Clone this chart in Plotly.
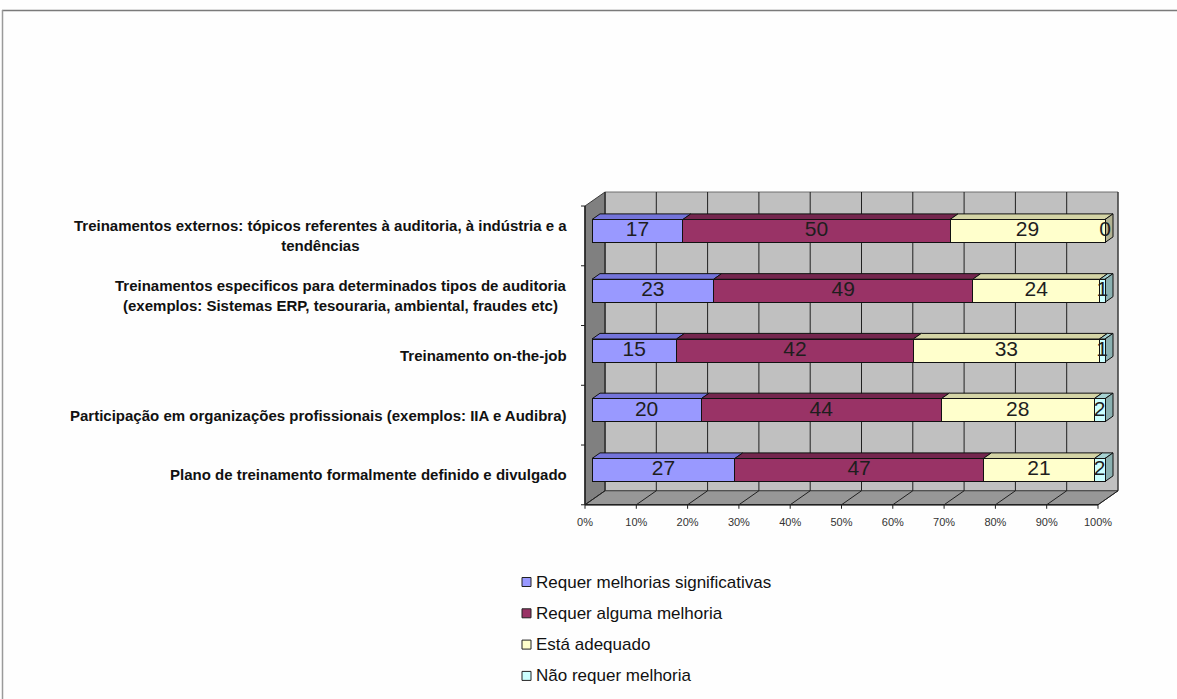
import plotly.graph_objects as go

# ---- data -------------------------------------------------------------
categories = [
    "Plano de treinamento formalmente definido e divulgado",
    "Participação em organizações profissionais (exemplos: IIA e Audibra)",
    "Treinamento on-the-job",
    "Treinamentos especificos para determinados tipos de auditoria<br>(exemplos: Sistemas ERP, tesouraria, ambiental, fraudes etc)",
    "Treinamentos externos: tópicos referentes à auditoria, à indústria e a<br>tendências",
]
series_names = [
    "Requer melhorias significativas",
    "Requer alguma melhoria",
    "Está adequado",
    "Não requer melhoria",
]
requer_melhorias_significativas = [27, 20, 15, 23, 17]
requer_alguma_melhoria = [47, 44, 42, 49, 50]
esta_adequado = [21, 28, 33, 24, 29]
nao_requer_melhoria = [2, 2, 1, 1, 0]
x_tick_values = [0, 10, 20, 30, 40, 50, 60, 70, 80, 90, 100]
x_tick_labels = ["0%", "10%", "20%", "30%", "40%", "50%", "60%", "70%", "80%", "90%", "100%"]

series_values = [requer_melhorias_significativas, requer_alguma_melhoria,
                 esta_adequado, nao_requer_melhoria]

# ---- styling ----------------------------------------------------------
FRONT_COLORS = ["#9999FF", "#993366", "#FFFFCC", "#CCFFFF"]
TOP_COLORS = ["#7474DA", "#74264E", "#D4D4A6", "#A6D2D2"]
SIDE_COLORS = ["#6262B8", "#5E1F40", "#B2B292", "#8AB0B0"]
FONT = "Liberation Sans, Arial, sans-serif"

W, H = 1177, 699
# plot area in page pixels
PX0, PX1 = 572, 1132
PY0, PY1 = 184, 512
# scale of the plane the bar fronts stand on
X0_PX, X100_PX = 592, 1105
ROW0_PX, ROW_STEP = 470, 59.75
SX = (X100_PX - X0_PX) / 100.0

x_range = [(PX0 - X0_PX) / SX, (PX1 - X0_PX) / SX]
y_range = [(ROW0_PX - PY1) / ROW_STEP, (ROW0_PX - PY0) / ROW_STEP]

# oblique depth of the box (front plane -> back wall), in pixels
DEPTH_PX = (20.0, -14.0)
BAR_FRONT = 0.35   # depth at which bar fronts stand
BAR_DEPTH = 0.40   # thickness of the bars along the depth
BAR_WIDTH = 23.0 / ROW_STEP
HALF = BAR_WIDTH / 2.0


def P(x, y, d):
    """Data point (x, y) pushed to depth d (0 = box front, 1 = back wall)."""
    off = d - BAR_FRONT
    return x + off * DEPTH_PX[0] / SX, y - off * DEPTH_PX[1] / ROW_STEP


def path(points):
    return "M " + " L ".join(f"{x:.4f},{y:.4f}" for x, y in points) + " Z"


def px_x(px):
    return (px - PX0) / (PX1 - PX0)


def px_y(py):
    return (PY1 - py) / (PY1 - PY0)


n_rows = len(categories)
rows = list(range(n_rows))
y_lo, y_hi = -0.5, n_rows - 0.5

shapes = []

# back wall
shapes.append(dict(type="path", layer="below", xref="x", yref="y",
                   path=path([P(0, y_lo, 1), P(100, y_lo, 1), P(100, y_hi, 1), P(0, y_hi, 1)]),
                   fillcolor="#C0C0C0", line=dict(color="#6E6E6E", width=1)))
# left side wall
shapes.append(dict(type="path", layer="below", xref="x", yref="y",
                   path=path([P(0, y_lo, 0), P(0, y_lo, 1), P(0, y_hi, 1), P(0, y_hi, 0)]),
                   fillcolor="#808080", line=dict(color="#3C3C3C", width=1)))
# floor
shapes.append(dict(type="path", layer="below", xref="x", yref="y",
                   path=path([P(0, y_lo, 0), P(100, y_lo, 0), P(100, y_lo, 1), P(0, y_lo, 1)]),
                   fillcolor="#979797", line=dict(color="#3C3C3C", width=1)))
# gridlines on back wall and floor
for t in x_tick_values:
    x0, y0 = P(t, y_lo, 1)
    x1, y1 = P(t, y_hi, 1)
    shapes.append(dict(type="line", layer="below", xref="x", yref="y",
                       x0=x0, y0=y0, x1=x1, y1=y1, line=dict(color="#202020", width=1)))
    a = P(t, y_lo, 0)
    b = P(t, y_lo, 1)
    shapes.append(dict(type="line", layer="below", xref="x", yref="y",
                       x0=a[0], y0=a[1], x1=b[0], y1=b[1], line=dict(color="#202020", width=1)))
    # small tick below the floor front edge
    shapes.append(dict(type="line", layer="below", xref="x", yref="y",
                       x0=a[0], y0=a[1], x1=a[0], y1=a[1] - 4 / ROW_STEP,
                       line=dict(color="#202020", width=1)))
# front edges of floor and side wall
fa, fb = P(0, y_lo, 0), P(100, y_lo, 0)
shapes.append(dict(type="line", layer="below", xref="x", yref="y",
                   x0=fa[0], y0=fa[1], x1=fb[0], y1=fb[1], line=dict(color="#202020", width=1.5)))
la, lb = P(0, y_lo, 0), P(0, y_hi, 0)
shapes.append(dict(type="line", layer="below", xref="x", yref="y",
                   x0=la[0], y0=la[1], x1=lb[0], y1=lb[1], line=dict(color="#202020", width=1.5)))
# category ticks on the side wall front edge
for k in range(-1, n_rows):
    c = P(0, k + 0.5, 0)
    shapes.append(dict(type="line", layer="below", xref="x", yref="y",
                       x0=c[0] - 4 / SX, y0=c[1], x1=c[0], y1=c[1],
                       line=dict(color="#202020", width=1)))

# top and end faces of the stacked bars
value_x, value_y, value_text = [], [], []
for r in rows:
    vals = [s[r] for s in series_values]
    total = float(sum(vals))
    left = 0.0
    last_nonzero = 0
    for i, v in enumerate(vals):
        pct = v / total * 100.0
        right = left + pct
        if v > 0:
            last_nonzero = i
            yt = r + HALF
            shapes.append(dict(type="path", layer="below", xref="x", yref="y",
                               path=path([P(left, yt, BAR_FRONT), P(right, yt, BAR_FRONT),
                                          P(right, yt, BAR_FRONT + BAR_DEPTH),
                                          P(left, yt, BAR_FRONT + BAR_DEPTH)]),
                               fillcolor=TOP_COLORS[i], line=dict(color="#111111", width=1)))
        value_x.append((left + right) / 2.0)
        value_y.append(r)
        value_text.append(str(v))
        left = right
    # right end face
    shapes.append(dict(type="path", layer="below", xref="x", yref="y",
                       path=path([P(100, r - HALF, BAR_FRONT), P(100, r + HALF, BAR_FRONT),
                                  P(100, r + HALF, BAR_FRONT + BAR_DEPTH),
                                  P(100, r - HALF, BAR_FRONT + BAR_DEPTH)]),
                       fillcolor=SIDE_COLORS[last_nonzero], line=dict(color="#111111", width=1)))

# page frame
shapes.append(dict(type="line", xref="paper", yref="paper", layer="below",
                   x0=px_x(2), x1=px_x(W + 5), y0=px_y(10.5), y1=px_y(10.5),
                   line=dict(color="#7A7A7A", width=1.5)))
shapes.append(dict(type="line", xref="paper", yref="paper", layer="below",
                   x0=px_x(2.5), x1=px_x(2.5), y0=px_y(10), y1=px_y(H + 5),
                   line=dict(color="#9A9A9A", width=1.5)))

fig = go.Figure()
for i, name in enumerate(series_names):
    fig.add_trace(go.Bar(
        y=rows, x=series_values[i], name=name, orientation="h",
        width=BAR_WIDTH,
        marker=dict(color=FRONT_COLORS[i], line=dict(color="#111111", width=1)),
        showlegend=False, hoverinfo="name+x",
    ))

fig.add_trace(go.Scatter(
    x=value_x, y=value_y, text=value_text, mode="text",
    textfont=dict(family=FONT, size=21, color="#1E1E1E"),
    showlegend=False, hoverinfo="skip", cliponaxis=False,
))

annotations = []
# category labels, centred on the front plane of the box
label_shift = (BAR_FRONT) * DEPTH_PX[1] / ROW_STEP
for r, cat in zip(rows, categories):
    annotations.append(dict(
        xref="paper", yref="y", x=px_x(569), y=r + label_shift,
        text=cat, showarrow=False, xanchor="right", yanchor="middle", align="center",
        font=dict(family=FONT, size=15, color="#111111", weight="bold"),
    ))

# legend
legend_top = 582
legend_step = 31.3
for i, name in enumerate(series_names):
    cy = legend_top + i * legend_step
    shapes.append(dict(type="rect", xref="paper", yref="paper",
                       x0=px_x(522), x1=px_x(531), y0=px_y(cy - 4.5), y1=px_y(cy + 4.5),
                       fillcolor=FRONT_COLORS[i], line=dict(color="#222222", width=1)))
    annotations.append(dict(
        xref="paper", yref="paper", x=px_x(534), y=px_y(cy),
        text=name, showarrow=False, xanchor="left", yanchor="middle",
        font=dict(family=FONT, size=17, color="#111111"),
    ))

fig.update_layout(
    width=W, height=H,
    margin=dict(l=PX0, r=W - PX1, t=PY0, b=H - PY1, pad=0),
    paper_bgcolor="#FEFEFE", plot_bgcolor="#FEFEFE",
    barmode="stack", barnorm="percent",
    shapes=shapes, annotations=annotations,
    showlegend=False,
    xaxis=dict(range=x_range, tickvals=x_tick_values, ticktext=x_tick_labels,
               showgrid=False, zeroline=False, showline=False, ticks="",
               ticklabelshift=-7, ticklabelstandoff=2,
               tickfont=dict(family=FONT, size=11, color="#333333"), fixedrange=True),
    yaxis=dict(range=y_range, showticklabels=False, showgrid=False, zeroline=False,
               showline=False, ticks="", fixedrange=True),
    font=dict(family=FONT),
)

fig.write_html("out.html")
